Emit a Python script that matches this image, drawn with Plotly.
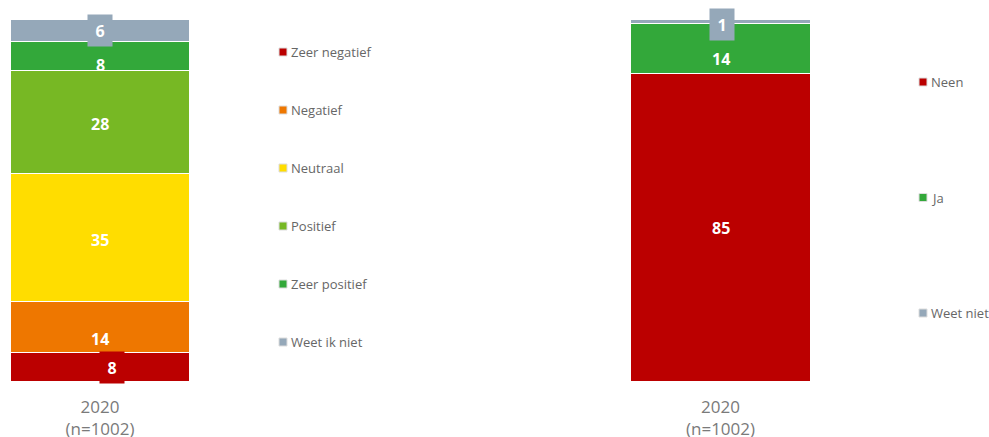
import plotly.graph_objects as go

# Survey question 1: sentiment, 2020 (n=1002)
cat_label = "2020<br>(n=1002)"
q1_names = ["Zeer negatief", "Negatief", "Neutraal", "Positief", "Zeer positief", "Weet ik niet"]
q1_values = [8, 14, 35, 28, 8, 6]
q1_colors = ["#bb0000", "#ee7700", "#ffdd00", "#77b824", "#33a83a", "#95a8b9"]

# Survey question 2: yes / no, 2020 (n=1002)
q2_names = ["Neen", "Ja", "Weet niet"]
q2_values = [85, 14, 1]
q2_colors = ["#bb0000", "#33a83a", "#95a8b9"]

W, H = 989, 437
TOP, BOTTOM = 20, 55
PLOT_H = H - TOP - BOTTOM
FONT = "Open Sans"

fig = go.Figure()


def px_x(px):
    return px / W


def px_y(py):
    # pixel row (from top of page) -> paper y
    return (H - BOTTOM - py) / PLOT_H


def add_stack(names, values, colors, xa, ya):
    for n, v, c in zip(names, values, colors):
        fig.add_trace(go.Bar(
            x=[cat_label], y=[v], name=n,
            marker=dict(color=c, line=dict(color="white", width=1.5)),
            width=1, xaxis=xa, yaxis=ya, showlegend=False, hoverinfo="skip",
        ))


def add_labels(values, colors, xref, yref, boxed, xshift, yshift):
    base = 0
    for i, (v, c) in enumerate(zip(values, colors)):
        mid = base + v / 2
        base += v
        kw = dict(bgcolor=c, width=22, height=29) if i in boxed else {}
        fig.add_annotation(
            x=cat_label, y=mid, xref=xref, yref=yref, text="<b>%d</b>" % v, showarrow=False,
            font=dict(family=FONT, size=16, color="white"), xshift=xshift.get(i, 0),
            yshift=yshift.get(i, 0), **kw,
        )
    # thin outline around the stacked column
    fig.add_shape(type="rect", xref=xref, yref=yref, x0=-0.5, x1=0.5, y0=0, y1=base,
                  line=dict(color="#cccccc", width=1), fillcolor="rgba(0,0,0,0)", layer="below")


def add_legend(names, colors, x_px, y0_px, step_px):
    for k, (n, c) in enumerate(zip(names, colors)):
        yc = y0_px + k * step_px
        fig.add_shape(type="rect", xref="paper", yref="paper",
                      x0=px_x(x_px), x1=px_x(x_px + 8), y0=px_y(yc + 4), y1=px_y(yc - 4),
                      fillcolor=c, line=dict(color="#dddddd", width=1))
        fig.add_annotation(x=px_x(x_px + 10), y=px_y(yc), xref="paper", yref="paper",
                           text=n, showarrow=False, xanchor="left", yanchor="middle",
                           font=dict(family=FONT, size=13, color="#666666"))


add_stack(q1_names, q1_values, q1_colors, "x", "y")
add_stack(q2_names, q2_values, q2_colors, "x2", "y2")

add_labels(q1_values, q1_colors, "x", "y", boxed={0, 5}, xshift={0: 12},
           yshift={1: -12, 4: -8, 3: -2, 2: -2})
add_labels(q2_values, q2_colors, "x2", "y2", boxed={2}, xshift={2: 1},
           yshift={1: -10, 2: -3})

add_legend(q1_names, q1_colors, 279, 52, 58)
add_legend(q2_names, q2_colors, 919, 82, 115.5)

axis_common = dict(showgrid=False, zeroline=False, showline=False, ticks="",
                   tickfont=dict(family=FONT, size=17, color="#7a7a7a"),
                   ticklabelstandoff=13)
fig.update_layout(
    width=W, height=H, margin=dict(l=0, r=0, t=TOP, b=BOTTOM, autoexpand=False),
    paper_bgcolor="white", plot_bgcolor="white", barmode="stack", bargap=0,
    showlegend=False,
    xaxis=dict(domain=[px_x(10), px_x(190)], **axis_common),
    yaxis=dict(range=[0, sum(q1_values)], visible=False),
    xaxis2=dict(domain=[px_x(630), px_x(811)], anchor="y2", **axis_common),
    yaxis2=dict(range=[0, sum(q2_values)], visible=False, anchor="x2"),
    font=dict(family=FONT),
)

fig.write_html("out.html")
